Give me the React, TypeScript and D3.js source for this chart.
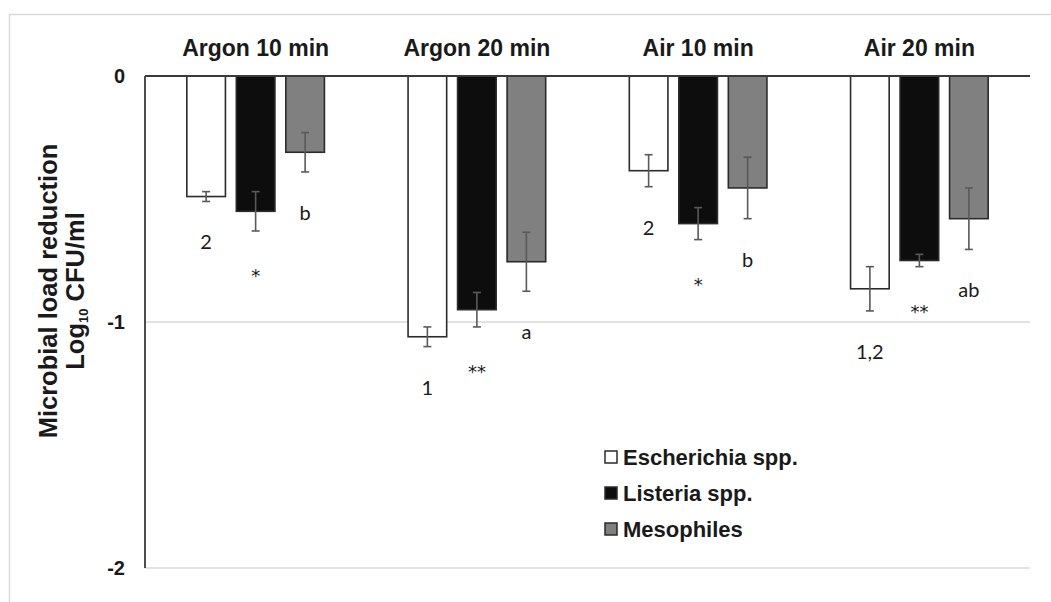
import React from "react";
import * as d3 from "d3";

const categories = ["Argon 10 min", "Argon 20 min", "Air 10 min", "Air 20 min"];
const seriesNames = ["Escherichia spp.", "Listeria spp.", "Mesophiles"];
const escherichia = [-0.49, -1.06, -0.385, -0.865];
const escherichiaErr = [0.02, 0.04, 0.065, 0.09];
const listeria = [-0.55, -0.95, -0.6, -0.75];
const listeriaErr = [0.08, 0.07, 0.065, 0.025];
const mesophiles = [-0.31, -0.755, -0.455, -0.58];
const mesophilesErr = [0.08, 0.12, 0.125, 0.125];
const escherichiaLabels = ["2", "1", "2", "1,2"];
const listeriaLabels = ["*", "**", "*", "**"];
const mesophilesLabels = ["b", "a", "b", "ab"];
const yTicks = [0, -1, -2];

const fills = ["#ffffff", "#0d0d0d", "#808080"];

const W = 1051;
const H = 602;
const plotLeft = 145;
const plotRight = 1030;
const plotTop = 76;
const plotBottom = 568;

export default function App() {
  const y = d3.scaleLinear().domain([-2, 0]).range([plotBottom, plotTop]);
  const x0 = d3
    .scaleBand<string>()
    .domain(categories)
    .range([plotLeft, plotRight])
    .paddingInner(0.378)
    .paddingOuter(0.189);
  const x1 = d3
    .scaleBand<string>()
    .domain(seriesNames)
    .range([0, x0.bandwidth()])
    .paddingInner(0.22);

  const values = [escherichia, listeria, mesophiles];
  const errs = [escherichiaErr, listeriaErr, mesophilesErr];
  const labels = [escherichiaLabels, listeriaLabels, mesophilesLabels];

  const font = "'Liberation Sans', Arial, sans-serif";
  const annoFont = "Lato, 'Open Sans', sans-serif";
  const starFont = "'DejaVu Sans', sans-serif";

  return (
    <div style={{ position: "absolute", left: 0, top: 0 }}>
      <svg width={W} height={H} style={{ display: "block", background: "#fff" }}>
        <rect x={9.5} y={14.5} width={1200} height={800} fill="#fff" stroke="#d9d9d9" strokeWidth={1.5} />

        {yTicks
          .filter((t) => t !== 0)
          .map((t) => (
            <line
              key={"g" + t}
              x1={plotLeft}
              x2={plotRight}
              y1={y(t)}
              y2={y(t)}
              stroke="#d9d9d9"
              strokeWidth={1.5}
            />
          ))}

        {categories.map((c, ci) =>
          seriesNames.map((s, si) => {
            const v = values[si][ci];
            const bx = (x0(c) as number) + (x1(s) as number);
            return (
              <rect
                key={c + s}
                x={bx}
                y={y(0)}
                width={x1.bandwidth()}
                height={y(v) - y(0)}
                fill={fills[si]}
                stroke="#2b2b2b"
                strokeWidth={1.6}
              />
            );
          })
        )}

        {categories.map((c, ci) =>
          seriesNames.map((s, si) => {
            const v = values[si][ci];
            const e = errs[si][ci];
            const cx = (x0(c) as number) + (x1(s) as number) + x1.bandwidth() / 2;
            const y1 = y(v + e);
            const y2 = y(v - e);
            return (
              <g key={"e" + c + s} stroke="#595959" strokeWidth={1.6}>
                <line x1={cx} x2={cx} y1={y1} y2={y2} />
                <line x1={cx - 4} x2={cx + 4} y1={y1} y2={y1} />
                <line x1={cx - 4} x2={cx + 4} y1={y2} y2={y2} />
              </g>
            );
          })
        )}

        {categories.map((c, ci) =>
          seriesNames.map((s, si) => {
            const v = values[si][ci];
            const e = errs[si][ci];
            const lab = labels[si][ci];
            const cx = (x0(c) as number) + (x1(s) as number) + x1.bandwidth() / 2;
            const center = y(v - e) + 41;
            const isStar = lab.includes("*");
            return (
              <text
                key={"l" + c + s}
                x={cx}
                y={center + (isStar ? 10 : 7)}
                textAnchor="middle"
                fontFamily={isStar ? starFont : annoFont}
                fontSize={isStar ? 18 : 20}
                fill="#1a1a1a"
              >
                {lab}
              </text>
            );
          })
        )}

        <line x1={plotLeft} x2={plotRight} y1={y(0)} y2={y(0)} stroke="#3a3a3a" strokeWidth={1.8} />
        <line x1={plotLeft} x2={plotLeft} y1={y(0)} y2={y(-2)} stroke="#3a3a3a" strokeWidth={1.8} />

        {yTicks.map((t) => (
          <text
            key={"t" + t}
            x={plotLeft - 20}
            y={y(t) + 7}
            textAnchor="end"
            fontFamily={font}
            fontWeight="bold"
            fontSize={20}
            fill="#1a1a1a"
          >
            {t}
          </text>
        ))}

        {categories.map((c) => (
          <text
            key={"c" + c}
            x={(x0(c) as number) + x0.bandwidth() / 2}
            y={56}
            textAnchor="middle"
            fontFamily={font}
            fontWeight="bold"
            fontSize={23}
            fill="#1a1a1a"
          >
            {c}
          </text>
        ))}

        <g transform={`translate(0, ${(plotTop + plotBottom) / 2 - 31}) rotate(-90)`}>
          <text x={0} y={57} textAnchor="middle" fontFamily={font} fontWeight="bold" fontSize={25.5} fill="#1a1a1a">
            Microbial load reduction
          </text>
          <text x={0} y={84} textAnchor="middle" fontFamily={font} fontWeight="bold" fontSize={25.5} fill="#1a1a1a">
            Log<tspan fontSize={13} dy={4}>10</tspan>
            <tspan dy={-4}> CFU/ml</tspan>
          </text>
        </g>

        {seriesNames.map((s, si) => (
          <g key={"lg" + s} transform={`translate(605, ${457 + si * 36})`}>
            <rect x={0} y={-6} width={12} height={12} fill={fills[si]} stroke="#2b2b2b" strokeWidth={1.5} />
            <text x={18} y={8} fontFamily={font} fontWeight="bold" fontSize={22} fill="#1a1a1a">
              {s}
            </text>
          </g>
        ))}
      </svg>
    </div>
  );
}
